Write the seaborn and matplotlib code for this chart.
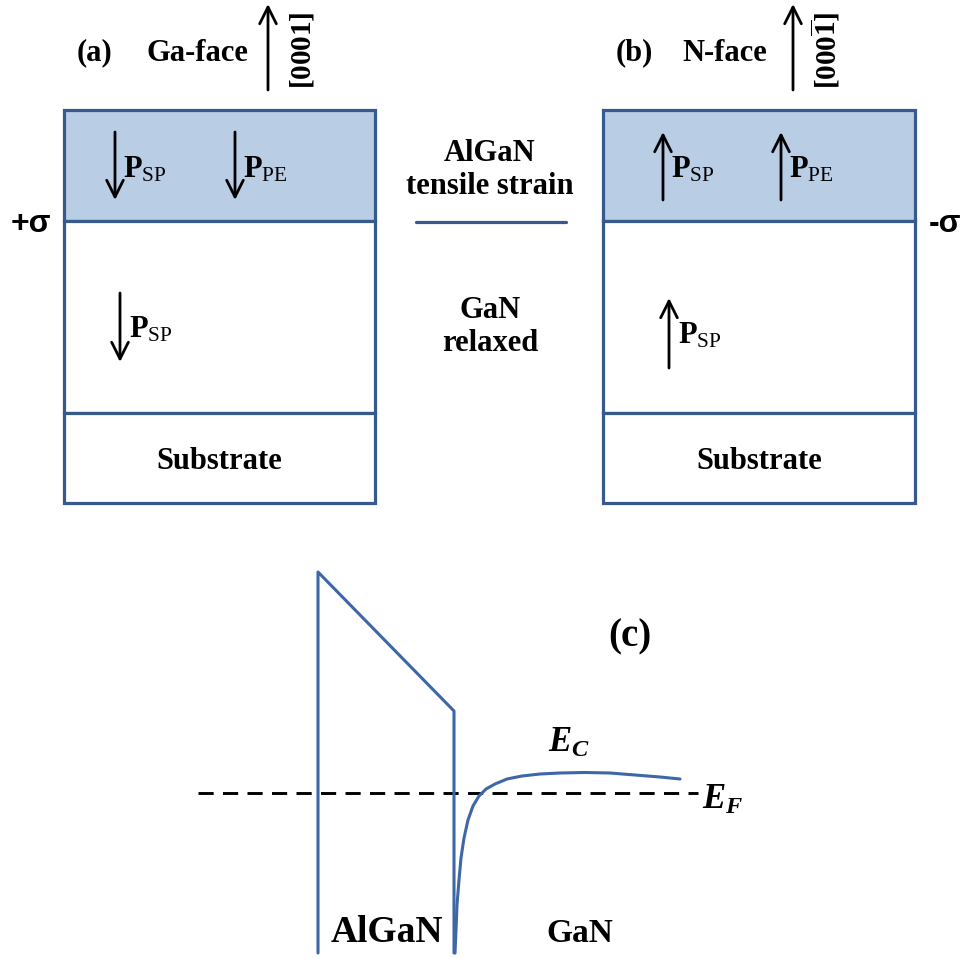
import numpy as np
import pandas as pd
import matplotlib
matplotlib.use("Agg")
import matplotlib.pyplot as plt
import seaborn as sns
from matplotlib.patches import Rectangle, FancyArrowPatch

# ---------------- data ----------------
layer_names = ["AlGaN", "GaN", "Substrate"]
panel_tags = ["(a)", "(b)"]
faces = ["Ga-face", "N-face"]
growth_dirs = [r"$\mathbf{[0001]}$",
               r"$\mathbf{[000}\overline{\mathbf{1}}\mathbf{]}$"]
pol_labels_algan = ["SP", "PE"]
pol_labels_gan = ["SP"]
pol_sign = [-1, 1]            # (a) pointing down, (b) pointing up
sheet_charge = ["+σ", "-σ"]
middle_labels = ["AlGaN\ntensile strain", "GaN\nrelaxed"]

# band diagram (position in arb. units, energy relative to E_F in arb. units)
barrier_x = [0.0, 0.0, 13.6, 13.6]
barrier_E = [-1.60, 2.21, 0.82, -1.60]
ec_x = [13.7, 13.8, 13.9, 14.1, 14.3, 14.6, 15.0, 15.5, 16.1, 16.8, 17.7,
        18.9, 20.4, 22.2, 24.2, 26.7, 29.2, 31.7, 34.2, 36.2]
ec_E = [-1.60, -1.37, -1.12, -0.87, -0.65, -0.45, -0.27, -0.13, -0.03, 0.04,
        0.09, 0.14, 0.17, 0.19, 0.20, 0.205, 0.20, 0.18, 0.16, 0.14]
ef_x = [-12.0, 38.0]
ef_E = [0.0, 0.0]
band_regions = ["AlGaN", "GaN"]

# ---------------- style ----------------
sns.set_theme(style="white")
plt.rcParams["font.family"] = ["Liberation Serif", "DejaVu Serif"]
plt.rcParams["text.color"] = "black"
plt.rcParams["mathtext.fontset"] = "custom"
plt.rcParams["mathtext.rm"] = "Liberation Serif"
plt.rcParams["mathtext.bf"] = "Liberation Serif:bold"
plt.rcParams["mathtext.it"] = "Liberation Serif:italic:bold"

EDGE = "#36598e"
FILL = "#b9cde5"
BAND = "#3d67a6"
FS = 22

W, H = 967, 958
fig = plt.figure(figsize=(W / 100, H / 100), dpi=100)
fig.patch.set_facecolor("white")

# schematic axes in pixel coordinates
ax = fig.add_axes([0, 0, 1, 1])
ax.set_xlim(0, W)
ax.set_ylim(H, 0)
ax.axis("off")

box_left = [64, 603]
box_right = [375, 915]
layer_y = [110, 221, 413, 503]

algan_arrow_x = [[115, 235], [663, 781]]
gan_arrow_x = [120, 669]
algan_arrow_y = (132, 200)
gan_arrow_y = [(293, 362), (298, 368)]
gan_label_base = [338, 343]

tag_x = [95, 634]
face_x = [197, 725]
dir_arrow_x = [268, 793]
dir_label_x = [302, 826]
sigma_x = [31, 945]


def v_arrow(x, y0, y1):
    a = FancyArrowPatch((x, y0), (x, y1),
                        arrowstyle="->,head_length=0.6,head_width=0.3",
                        mutation_scale=20, lw=2.0, color="black",
                        shrinkA=0, shrinkB=0, zorder=5)
    ax.add_patch(a)


for p in range(2):
    L, R = box_left[p], box_right[p]
    # layers
    for i, name in enumerate(layer_names):
        top, bot = layer_y[i], layer_y[i + 1]
        ax.add_patch(Rectangle((L, top), R - L, bot - top,
                               facecolor=FILL if i == 0 else "white",
                               edgecolor=EDGE, lw=2.3, zorder=2))
    ax.text((L + R) / 2, (layer_y[2] + layer_y[3]) / 2 + 3, layer_names[2],
            fontsize=FS, fontweight="bold", ha="center", va="center")

    s = pol_sign[p]
    # AlGaN polarisation arrows
    for j, lab in enumerate(pol_labels_algan):
        x = algan_arrow_x[p][j]
        y0, y1 = algan_arrow_y
        if s < 0:
            v_arrow(x, y0, y1)
        else:
            v_arrow(x, y1, y0)
        ax.text(x + 8, 177, r"$\mathbf{P}_{\mathrm{%s}}$" % lab,
                fontsize=FS, ha="left", va="baseline", zorder=6)
    # GaN arrow
    x = gan_arrow_x[p]
    y0, y1 = gan_arrow_y[p]
    if s < 0:
        v_arrow(x, y0, y1)
    else:
        v_arrow(x, y1, y0)
    ax.text(x + 9, gan_label_base[p], r"$\mathbf{P}_{\mathrm{%s}}$" % pol_labels_gan[0],
            fontsize=FS, ha="left", va="baseline", zorder=6)

    # header
    ax.text(tag_x[p], 53, panel_tags[p], fontsize=FS, fontweight="bold",
            ha="center", va="center")
    ax.text(face_x[p], 53, faces[p], fontsize=FS, fontweight="bold",
            ha="center", va="center")
    v_arrow(dir_arrow_x[p], 90, 4)
    ax.text(dir_label_x[p], 50, growth_dirs[p], fontsize=21, rotation=90,
            ha="center", va="center")

    # sheet charge
    ax.text(sigma_x[p], 224, sheet_charge[p], fontsize=23, fontweight="bold",
            family=["Liberation Sans", "DejaVu Sans"], ha="center", va="center")

# middle labels
ax.text(490, 170, middle_labels[0], fontsize=FS, fontweight="bold",
        ha="center", va="center", linespacing=1.2)
ax.plot([416, 566], [222, 222], color=EDGE, lw=2.3)
ax.text(490, 327, middle_labels[1], fontsize=FS, fontweight="bold",
        ha="center", va="center", linespacing=1.2)

# ---------------- band diagram (c) ----------------
ax2 = fig.add_axes([190 / W, 0, 580 / W, 398 / H])
ax2.set_xlim(-12.8, 45.2)
ax2.set_ylim(-1.65, 2.33)
ax2.axis("off")
ax2.patch.set_alpha(0)

sns.lineplot(x=ef_x, y=ef_E, ax=ax2, color="black", lw=2.1, sort=False,
             estimator=None, dashes=False, linestyle=(0, (5.2, 3.2)))
sns.lineplot(x=barrier_x, y=barrier_E, ax=ax2, color=BAND, lw=2.2,
             sort=False, estimator=None)
sns.lineplot(x=ec_x, y=ec_E, ax=ax2, color=BAND, lw=2.2, sort=False,
             estimator=None)

ax2.text(31.2, 1.56, "(c)", fontsize=28, fontweight="bold",
         ha="center", va="center")
ax2.text(25.1, 0.50, r"$E_C$", fontsize=25, ha="center", va="center")
ax2.text(38.4, -0.07, r"$E_F$", fontsize=25, ha="left", va="center")
ax2.text(6.9, -1.40, band_regions[0], fontsize=27, fontweight="bold",
         ha="center", va="center")
ax2.text(26.2, -1.40, band_regions[1], fontsize=24, fontweight="bold",
         ha="center", va="center")

fig.savefig("out.png", dpi=100, facecolor="white")
